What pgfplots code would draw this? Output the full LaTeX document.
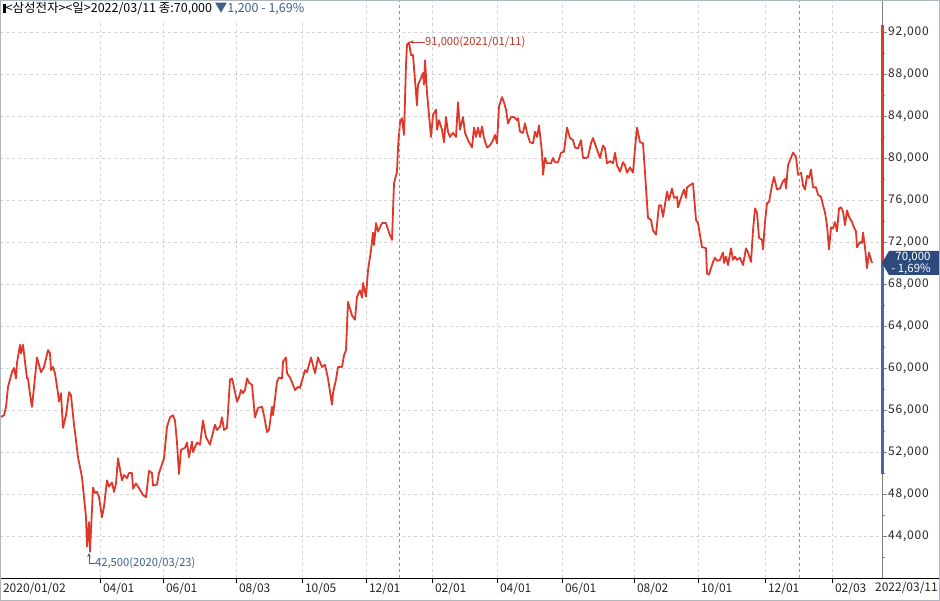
\documentclass[border=0pt]{standalone}
\usepackage{pgfplots}
\pgfplotsset{compat=1.18}
\usepackage{pgfplotstable}
\usetikzlibrary{arrows.meta}
\usepackage{fontspec}
\setmainfont{Noto Sans CJK KR}
\newfontfamily\numfont[LetterSpace=7]{Noto Sans CJK KR}
\definecolor{linered}{RGB}{222,56,42}
\definecolor{gridc}{RGB}{212,212,212}
\definecolor{yearc}{RGB}{150,150,150}
\definecolor{axred}{RGB}{214,62,46}
\definecolor{axblue}{RGB}{68,104,160}
\definecolor{boxblue}{RGB}{44,74,124}
\definecolor{txtblue}{RGB}{60,95,140}
\definecolor{txtred}{RGB}{185,55,40}
\definecolor{framec}{RGB}{175,182,190}

\pgfplotstableread{
x y
0 55300
4 55500
6 56300
8 58200
12 59600
14 60000
16 59000
17 60500
20 62200
21 61400
23 62200
24 61400
27 59000
28 59000
31 56800
32 56300
35 59100
37 61000
41 59600
44 60100
48 61700
50 61400
51 59800
53 60100
55 59500
58 57600
59 56800
61 57600
63 54300
66 55500
69 57700
71 57400
74 54600
75 53900
78 51500
82 49600
84 47700
86 45800
87 43000
89 45300
90 42500
93 48600
95 48100
97 48200
99 47700
102 45800
104 46800
107 49300
109 48700
112 49100
114 48200
116 49000
118 51400
122 49300
124 49800
127 49500
129 50000
132 50000
133 48500
136 49000
140 48400
143 47900
146 47700
149 50200
152 50000
153 48800
157 48900
159 50000
164 51400
167 54400
170 55300
173 55500
175 55000
177 52900
179 49900
181 52200
185 52400
187 52900
189 51500
192 53000
193 52000
197 52900
200 52700
203 55000
206 53400
210 52700
215 54600
217 54100
220 54400
222 55300
224 54100
227 54300
230 58900
232 59000
233 58600
237 56800
239 57200
241 57900
243 57600
245 57900
247 59000
249 58600
252 58400
255 55300
258 56200
262 56300
264 55500
267 53900
269 54100
272 56300
273 55500
277 58700
279 59100
282 59000
283 60600
286 61000
287 59500
290 59100
293 58400
295 57900
298 58200
300 58100
305 59800
307 59600
311 61000
315 59500
318 61000
322 60100
325 60300
328 59000
332 56500
333 57600
336 58900
338 60100
342 60100
344 61200
346 61700
348 66300
352 65000
355 64600
357 66800
360 67400
362 66700
363 68100
366 66800
368 69300
371 71200
373 72900
374 71700
376 73800
378 73000
382 73800
386 73800
389 72900
392 72200
394 77600
397 78700
398 81000
400 83400
402 83800
404 82200
406 88900
407 90800
409 91000
411 89800
413 89800
417 85000
418 87000
421 87600
423 88100
424 87000
425 89300
427 86200
431 82000
433 84100
436 84600
437 82700
439 83600
442 82700
444 81500
446 83900
448 82500
450 82000
453 82400
456 82000
458 85300
460 82700
463 83900
465 82400
468 81700
472 81000
474 82900
476 82000
478 82900
480 82000
482 83000
484 81900
487 81000
490 81200
493 81700
495 82200
497 81400
499 84900
502 85800
504 85300
506 84600
508 83300
511 83900
514 83900
517 83600
518 83800
520 82500
523 82400
525 83300
527 82400
530 81500
533 81400
535 82500
537 82000
539 83100
542 80500
543 78400
545 80000
547 79500
551 79500
553 80000
555 79600
558 79600
561 80500
564 80600
567 82900
570 81900
573 81700
575 81000
578 80900
581 81700
583 80000
586 80000
588 80100
591 81400
593 81900
597 80800
600 80000
603 81200
605 80900
607 79500
610 79700
613 79500
615 80500
617 79300
620 78700
623 79600
625 79300
627 78600
630 79100
633 78600
635 80900
637 82900
640 81500
643 81400
645 78600
648 74300
651 74100
653 73100
656 72700
659 75500
661 75500
663 74400
667 76800
669 76000
672 77100
674 76200
677 76300
678 75300
681 76200
684 77000
686 76200
687 77200
690 77400
693 77600
696 74100
698 73800
702 71500
703 71500
706 71400
707 69000
709 68900
713 70100
715 70500
717 70200
720 70300
723 71000
724 70000
726 70600
728 69800
731 71400
733 70300
735 70600
737 70300
740 70500
743 69800
746 71400
748 71000
751 70100
753 73100
755 75200
757 74800
759 72400
762 72200
763 71300
765 73900
767 75700
769 75800
772 77400
774 78200
777 77000
780 77100
783 77800
785 78000
786 77100
788 79300
790 79800
793 80500
796 80100
798 78400
801 78600
803 77400
805 77000
807 78300
809 78100
811 78900
813 77200
816 77200
818 76500
821 76300
823 75500
825 74800
827 73600
829 71300
831 73400
833 73300
835 73900
837 73000
839 75200
841 75300
843 74900
845 73600
847 75000
849 74400
852 73900
854 73400
856 73000
857 71500
860 72000
862 71900
863 72900
865 71500
867 69500
869 71000
872 70000
}\price

\begin{document}
\begin{tikzpicture}[x=1pt,y=1pt]
\useasboundingbox (0,0) rectangle (940,601);
\fill[white] (0,0) rectangle (940,601);
\begin{axis}[
  at={(0pt,23pt)}, anchor=south west,
  scale only axis, width=882pt, height=578pt,
  xmin=0, xmax=882, ymin=40000, ymax=95048,
  axis x line*=bottom, axis y line*=right,
  x axis line style={black, line width=0.8pt, -},
  y axis line style={gray, line width=0.8pt, -},
  xtick={0,100,163,236,302,366,432,497,562,634,698,765,832},
  xticklabels={2020/01/02,04/01,06/01,08/03,10/05,12/01,02/01,04/01,06/01,08/02,10/01,12/01,02/03},
  ytick={44000,48000,...,92000},
  minor ytick={42000,46000,...,90000},
  scaled y ticks=false,
  /pgf/number format/1000 sep={,},
  /pgf/number format/assume math mode=true,
  tick align=outside,
  xtick style={black, line width=0.6pt},
  ytick style={gray, line width=0.6pt},
  major tick length=5pt, minor tick length=3pt,
  grid=major,
  major grid style={gridc, dash pattern=on 3pt off 3pt, line width=0.6pt},
  tick label style={font=\fontsize{12}{13}\selectfont, text=black!85},
  xticklabel style={anchor=north west, xshift=-0.5pt, yshift=4pt},
  yticklabel style={font=\numfont\fontsize{12}{13}\selectfont, anchor=west, xshift=-2.5pt},
]
\addplot[linered, line width=1.8pt, line join=round] table[x=x,y=y]{\price};
\end{axis}
% year dividers
\draw[yearc, dash pattern=on 3pt off 3pt, line width=0.7pt] (399,23) -- (399,601);
\draw[yearc, dash pattern=on 3pt off 3pt, line width=0.7pt] (799,23) -- (799,601);
% extend bottom axis
\draw[black, line width=0.8pt] (0,23) -- (940,23);
% right axis coloured bars
\draw[axred, line width=3pt] (882,576) -- (882,338);
\draw[axblue, line width=3pt] (882,338) -- (882,127);
% value box
\fill[boxblue] (882,338) -- (889,350) -- (940,350) -- (940,326) -- (889,326) -- cycle;
\node[text=white, font=\fontsize{11.5}{12}\selectfont, inner sep=0] at (913,344) {70,000};
\node[text=white, font=\fontsize{11.5}{12}\selectfont, inner sep=0] at (911,332) {- 1,69\%};
% end date label
\node[anchor=north east, inner sep=0, font=\fontsize{12}{13}\selectfont, text=black!85] at (938,19.5) {2022/03/11};
% annotations
\draw[txtred, line width=0.7pt, -{Stealth[length=4pt,width=3.5pt]}] (425,559) -- (409.5,559);
\node[anchor=west, inner sep=0, text=txtred, font=\fontsize{11.2}{12}\selectfont] at (425,559) {91,000(2021/01/11)};
\draw[txtblue, line width=0.7pt, -{Stealth[length=4pt,width=3.5pt]}] (95,38) -- (89,38) -- (89,48);
\node[anchor=west, inner sep=0, text=txtblue, font=\fontsize{11.2}{12}\selectfont] at (95,38) {42,500(2020/03/23)};
% title
\fill[white] (1,581) rectangle (306,600);
\node[anchor=west, inner sep=0, font=\fontsize{12.5}{13}\selectfont] at (3,592) {\rule[-0.5pt]{2.4pt}{9pt}<삼성전자><일>2022/03/11 종:70,000 \textcolor{txtblue}{▼1,200 - 1,69\%}};
% frame
\draw[framec, line width=1pt] (0.5,0.5) rectangle (939.5,600.5);
\end{tikzpicture}
\end{document}
